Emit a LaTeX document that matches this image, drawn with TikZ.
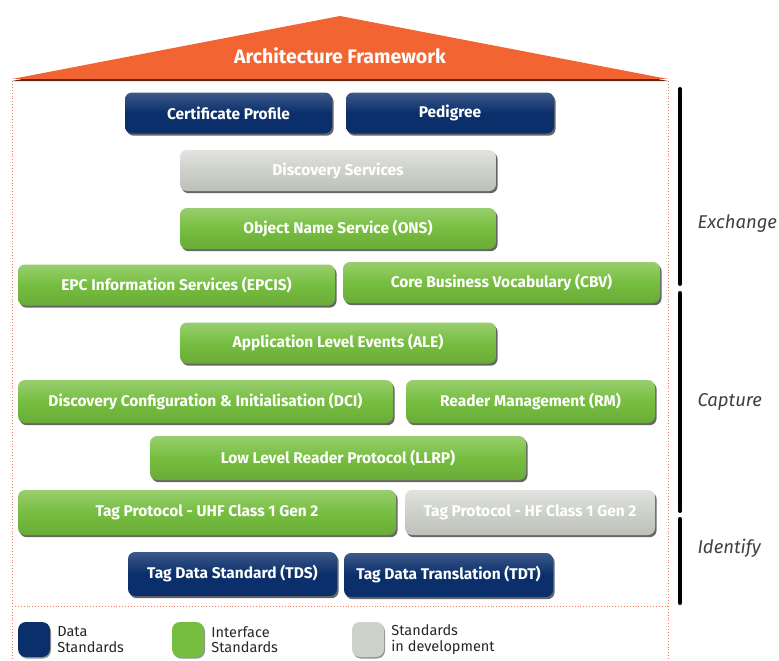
\documentclass[tikz,border=0pt]{standalone}
\usepackage{fontspec}
\setmainfont{Fira Sans}
\usetikzlibrary{positioning,shadows}

\definecolor{roofc}{HTML}{F26532}
\definecolor{navyc}{HTML}{0B2F6B}
\definecolor{greenc}{HTML}{76BE3F}
\definecolor{greyc}{HTML}{CDD1C9}
\definecolor{framec}{HTML}{F08060}

\tikzset{
    box/.style={rounded corners=7pt, inner sep=0pt, minimum height=41pt, text=white,
        font=\fontsize{15.5}{17}\selectfont\bfseries,
        drop shadow={shadow xshift=1.6pt, shadow yshift=-2.2pt, fill=black!80, opacity=.75}},
    datastd/.style={box, top color=navyc!80!white, bottom color=navyc, middle color=navyc},
    ifacestd/.style={box, top color=greenc!75!white, bottom color=greenc!90!black, middle color=greenc},
    devstd/.style={box, top color=greyc!60!white, bottom color=greyc!92!black, middle color=greyc},
    layer/.style={font=\fontsize{18.5}{20}\selectfont\itshape, text=black!75, anchor=west},
    legtext/.style={font=\fontsize{14.5}{15.5}\selectfont, align=left, anchor=west, inner sep=0pt, text=black!85},
    legbox/.style={rounded corners=8pt, minimum width=32pt, minimum height=35pt, inner sep=0pt,
        drop shadow={shadow xshift=1pt, shadow yshift=-1.5pt, fill=black!70, opacity=.6}},
    bar/.style={line width=4pt, line cap=round}
}

\begin{document}
\begin{tikzpicture}[x=1pt,y=-1pt]
    \useasboundingbox (0,0) rectangle (779,661);

    % roof
    \fill[black!60!roofc] (12,81) -- (340,18) -- (668,81) -- cycle;
    \fill[roofc] (12,79) -- (340,16) -- (668,79) -- cycle;
    \node[text=white, font=\fontsize{19.5}{21}\selectfont\bfseries] (roof) at (340,56) {Architecture Framework};

    % frame
    \draw[framec, dotted, line width=0.9pt] (12,81) -- (12,661) (668,81) -- (668,661) (12,606) -- (668,606);

    % data and interface standards
    \node[datastd, minimum width=207pt] (cert) at (228.5,113) {Certificate Profile};
    \node[datastd, minimum width=208pt] (pedigree) at (450,113) {Pedigree};
    \node[devstd, minimum width=316pt] (disc) at (338,170.5) {Discovery Services};
    \node[ifacestd, minimum width=316pt] (ons) at (338,228.5) {Object Name Service (ONS)};
    \node[ifacestd, minimum width=317pt] (epcis) at (176.5,285) {EPC Information Services (EPCIS)};
    \node[ifacestd, minimum width=317pt] (cbv) at (501.5,282.5) {Core Business Vocabulary (CBV)};
    \node[ifacestd, minimum width=316pt] (ale) at (338,343) {Application Level Events (ALE)};
    \node[ifacestd, minimum width=375pt, minimum height=43pt] (dci) at (205.5,401.5) {Discovery Configuration \& Initialisation (DCI)};
    \node[ifacestd, minimum width=249pt, minimum height=43pt] (rm) at (530.5,401.5) {Reader Management (RM)};
    \node[ifacestd, minimum width=376pt, minimum height=44pt] (llrp) at (338,458) {Low Level Reader Protocol (LLRP)};
    \node[ifacestd, minimum width=378pt, minimum height=45pt] (uhf) at (207,512.5) {Tag Protocol - UHF Class 1 Gen 2};
    \node[devstd, minimum width=250pt, minimum height=45pt] (hf) at (530,512.5) {Tag Protocol - HF Class 1 Gen 2};
    \node[datastd, minimum width=209pt, minimum height=44pt] (tds) at (232.5,574) {Tag Data Standard (TDS)};
    \node[datastd, minimum width=209pt, minimum height=44pt] (tdt) at (448.5,575) {Tag Data Translation (TDT)};

    % layers
    \draw[bar] (680,89) -- (680,284);
    \draw[bar] (680,293) -- (680,511);
    \draw[bar] (680,519) -- (680,603);
    \node[layer] (exchange) at (694,224) {Exchange};
    \node[layer] (capture) at (694,402) {Capture};
    \node[layer] (identify) at (694,548) {Identify};

    % legend
    \node[legbox, fill=navyc] (legdata) at (34,639.5) {};
    \node[legtext, right=7pt of legdata] (legdatat) {Data\\Standards};
    \node[legbox, fill=greenc] (legiface) at (188,639.5) {};
    \node[legtext, right=7pt of legiface] (legifacet) {Interface\\Standards};
    \node[legbox, fill=greyc] (legdev) at (368,639.5) {};
    \node[legtext, right=7pt of legdev] (legdevt) {Standards\\in development};
\end{tikzpicture}
\end{document}
